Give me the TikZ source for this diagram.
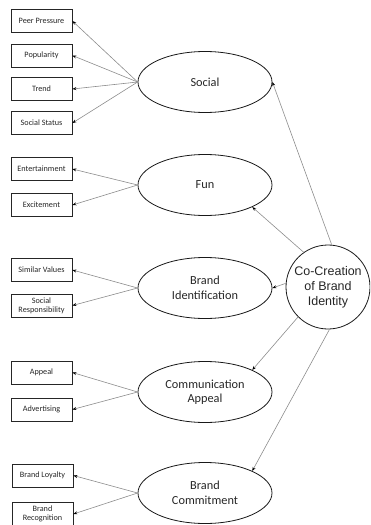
\documentclass[tikz,border=0pt]{standalone}
\usepackage{fontspec}
\setmainfont{Carlito}
\newfontfamily\arialfont{Liberation Sans}
\usetikzlibrary{shapes.geometric,arrows.meta}

\tikzset{
  itembox/.style={draw=black!85, line width=0.8pt, minimum width=61pt, minimum height=23pt,
    inner sep=1pt, font=\fontsize{8.2}{10}\selectfont, text=black!85, align=center},
  construct/.style={draw=black!90, ellipse, line width=0.8pt, minimum width=134pt, minimum height=61pt,
    inner sep=0pt, font=\fontsize{12.3}{14.5}\selectfont, text=black!85, align=center},
  core/.style={draw=black!90, circle, line width=0.8pt, minimum size=84pt, inner sep=0pt,
    font=\arialfont\fontsize{12.5}{15}\selectfont, text=black!85, align=center},
  link/.style={draw=black!45, line width=0.6pt, -{Stealth[length=4pt,width=3pt,color=black]}},
}

\begin{document}
\begin{tikzpicture}[x=1pt, y=-1pt]
\useasboundingbox (0,0) rectangle (370,525);
\clip (0,0) rectangle (370,525);

% indicator boxes
\node[itembox] (pp)  at (41.5,21)   {Peer Pressure};
\node[itembox] (pop) at (41.5,55.5) {Popularity};
\node[itembox] (tr)  at (41.5,89)   {Trend};
\node[itembox] (ss)  at (41.5,123)  {Social Status};
\node[itembox] (ent) at (41.5,169)  {Entertainment};
\node[itembox] (exc) at (41.5,205)  {Excitement};
\node[itembox] (sv)  at (41.5,270)  {Similar Values};
\node[itembox] (sr)  at (41.5,305.5){Social\\[-1pt]Responsibility};
\node[itembox] (ap)  at (41.5,372.5){Appeal};
\node[itembox] (adv) at (41.5,409.5){Advertising};
\node[itembox] (bl)  at (42.5,475.5){Brand Loyalty};
\node[itembox] (br)  at (42.5,514)  {Brand\\[-1pt]Recognition};

% latent constructs
\node[construct] (soc) at (205,82)  {Social};
\node[construct] (fun) at (205,185) {Fun};
\node[construct] (bid) at (205,288) {Brand\\Identification};
\node[construct] (com) at (205,392) {Communication\\Appeal};
\node[construct] (bc)  at (205,493) {Brand\\Commitment};

% central construct
\node[core] (cc) at (328,287) {Co-Creation\\of Brand\\Identity};

% construct -> indicators
\draw[link] (soc.west) -- (pp.east);
\draw[link] (soc.west) -- (pop.east);
\draw[link] (soc.west) -- (tr.east);
\draw[link] (soc.west) -- (ss.east);
\draw[link] (fun.west) -- (ent.east);
\draw[link] (fun.west) -- (exc.east);
\draw[link] (bid.west) -- (sv.east);
\draw[link] (bid.west) -- (sr.east);
\draw[link] (com.west) -- (ap.east);
\draw[link] (com.west) -- (adv.east);
\draw[link] (bc.west) -- (bl.east);
\draw[link] (bc.west) -- (br.east);

% central construct -> constructs
\draw[link] (cc.85)   -- (soc.east);
\draw[link] (cc.125)  -- (fun.-25);
\draw[link] (cc.175)  -- (bid.east);
\draw[link] (cc.225)  -- (com.25);
\draw[link] (cc.-88)  -- (bc.25);
\end{tikzpicture}
\end{document}
